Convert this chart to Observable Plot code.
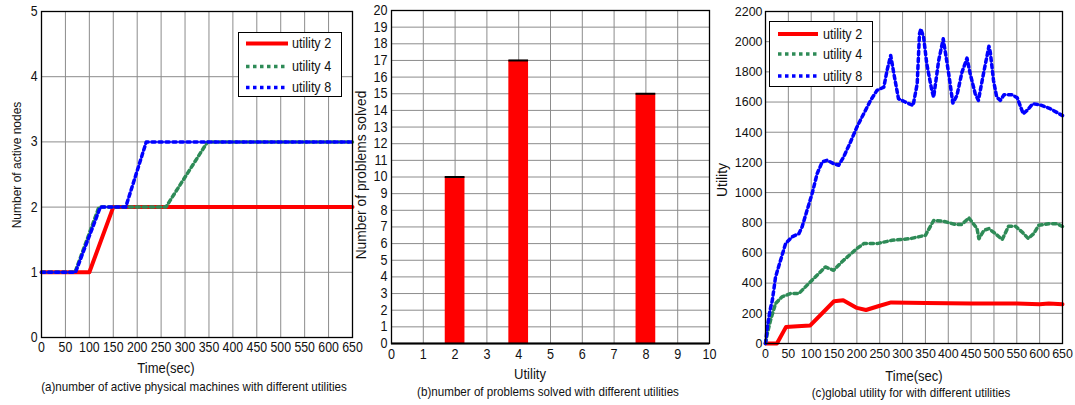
<!DOCTYPE html>
<html><head><meta charset="utf-8">
<script src="https://cdn.jsdelivr.net/npm/d3@7"></script>
<script src="https://cdn.jsdelivr.net/npm/@observablehq/plot@0.6"></script>
<style>
body{margin:0;background:#fff;width:1075px;height:405px;position:relative;overflow:hidden;font-family:"Liberation Sans",Arial,sans-serif;color:#111;}
.panel{position:absolute;top:0;}
.panel svg{overflow:visible;}
.t{position:absolute;white-space:nowrap;transform:translate(-50%,-50%) scaleX(0.93);font-size:14px;}
.cap{position:absolute;white-space:nowrap;transform:translate(-50%,-50%) scaleX(0.86);font-size:13.5px;}
.yl{position:absolute;white-space:nowrap;transform:translate(-50%,-50%) rotate(-90deg);font-size:12px;}
.legend{position:absolute;border:1.5px solid #000;background:#fff;box-sizing:border-box;}
.legend svg{position:absolute;left:0;top:0;overflow:visible;}
</style>
</head><body>
<div id="pa" class="panel" style="left:0px"></div>
<div id="pb" class="panel" style="left:360px"></div>
<div id="pc" class="panel" style="left:715px"></div>

<div class="yl" style="left:17px;top:165px">Number of active nodes</div>
<div class="t" style="left:166px;top:368px">Time(sec)</div>
<div class="cap" style="left:194px;top:386px">(a)number of active physical machines with different utilities</div>

<div class="yl" style="left:361px;top:175px;font-size:13.8px">Number of problems solved</div>
<div class="t" style="left:530px;top:374px">Utility</div>
<div class="cap" style="left:548px;top:391px">(b)number of problems solved with different utilities</div>

<div class="yl" style="left:722px;top:180px;font-size:14px">Utility</div>
<div class="t" style="left:914px;top:376px">Time(sec)</div>
<div class="cap" style="left:911px;top:392px">(c)global utility for with different utilities</div>

<div id="lega" class="legend" style="left:238px;top:32px;width:104px;height:65px"></div>
<div id="legc" class="legend" style="left:769px;top:21px;width:104px;height:66px"></div>

<script>
// ---------- data: panel (a) number of active nodes ----------
const seriesNames = ["utility 2", "utility 4", "utility 8"];
const seriesColors = ["#ff0000", "#2e8b57", "#0000ff"];

const timeA_u2 = [0, 100, 150, 650];
const nodesA_u2 = [1, 1, 2, 2];
const timeA_u4 = [0, 70, 120, 260, 347, 650];
const nodesA_u4 = [1, 1, 2, 2, 3, 3];
const timeA_u8 = [0, 71, 123, 176, 219, 650];
const nodesA_u8 = [1, 1, 2, 2, 3, 3];
const ticksA_x = [0,50,100,150,200,250,300,350,400,450,500,550,600,650];
const ticksA_y = [0,1,2,3,4,5];

// ---------- data: panel (b) problems solved ----------
const utilitiesB = [2, 4, 8];
const solvedB = [10, 17, 15];
const ticksB_x = [0,1,2,3,4,5,6,7,8,9,10];
const ticksB_y = [0,1,2,3,4,5,6,7,8,9,10,11,12,13,14,15,16,17,18,19,20];

// ---------- data: panel (c) global utility ----------
const timeC_u2 = [0,25,45,70,98,150,170,200,220,250,275,350,450,550,600,620,650];
const utilC_u2 = [0,0,110,115,120,280,287,236,222,250,272,268,265,265,260,265,260];
const timeC_u4 = [0,4,11,22,36,55,73,98,120,131,149,171,200,215,244,277,317,350,368,389,415,430,445,463,467,478,489,503,518,532,547,561,575,587,598,620,638,650];
const utilC_u4 = [0,66,154,265,309,331,331,408,474,507,485,552,629,662,662,684,695,717,815,811,789,789,833,761,694,750,761,728,689,777,777,740,696,728,783,794,794,775];
const timeC_u8 = [0,4,10,15,22,33,44,58,73,80,91,102,113,124,135,149,160,171,186,200,215,230,244,259,266,274,281,291,306,323,332,337,340,346,353,364,368,379,389,393,401,410,419,430,441,448,459,466,477,489,492,499,506,514,522,540,551,564,574,585,600,623,643,650];
const utilC_u8 = [0,110,221,287,441,552,662,706,728,772,883,993,1125,1203,1214,1192,1181,1236,1335,1434,1523,1611,1677,1699,1809,1909,1787,1622,1600,1577,1721,2052,2085,2030,1853,1677,1632,1875,2019,1942,1787,1593,1644,1798,1891,1787,1655,1611,1787,1970,1931,1743,1633,1611,1648,1648,1628,1522,1549,1589,1582,1556,1522,1510];
const ticksC_x = ticksA_x;
const ticksC_y = [0,200,400,600,800,1000,1200,1400,1600,1800,2000,2200];

// ---------- helpers ----------
const rows = (xs, ys) => xs.map((x, i) => ({x, y: ys[i]}));
const lineStyles = [
  {stroke: seriesColors[0], strokeWidth: 4},
  {stroke: seriesColors[1], strokeWidth: 3.5, strokeDasharray: "3.5,3.5"},
  {stroke: seriesColors[2], strokeWidth: 3.5, strokeDasharray: "3.5,3.5"}
];
const styleFor = (fs) => ({background: "transparent", fontFamily: "'Liberation Sans',Arial,sans-serif", fontSize: fs + "px", color: "#111", overflow: "visible"});
const gridStyle = {stroke: "#8c8c8c", strokeOpacity: 1, strokeWidth: 1};
const fmt = (d) => String(d);

function squeeze(svg, s) {
  svg.querySelectorAll('g[aria-label$="tick label"] text').forEach((t) => {
    const x = +(t.getAttribute("x") || 0);
    const tr = t.getAttribute("transform") || "";
    t.setAttribute("transform", `${tr} translate(${x},0) scale(${s},1) translate(${-x},0)`);
  });
  return svg;
}

// ---------- panel (a) ----------
const dataA = [rows(timeA_u2, nodesA_u2), rows(timeA_u4, nodesA_u4), rows(timeA_u8, nodesA_u8)];
document.getElementById("pa").append(squeeze(Plot.plot({
  width: 360, height: 405, marginLeft: 41, marginRight: 8, marginTop: 11, marginBottom: 68,
  style: styleFor(14),
  x: {domain: [0, 650], ticks: ticksA_x, tickFormat: fmt, label: null, tickSize: 0, tickPadding: 5},
  y: {domain: [0, 5], ticks: ticksA_y, tickFormat: fmt, label: null, tickSize: 0, tickPadding: 4},
  marks: [
    Plot.gridX(ticksA_x, gridStyle),
    Plot.gridY(ticksA_y, gridStyle),
    ...dataA.map((d, i) => Plot.line(d, {x: "x", y: "y", ...lineStyles[i]})),
    Plot.frame({stroke: "#000", strokeWidth: 1.3})
  ]
}), 0.88));

// ---------- panel (b) ----------
const dataB = utilitiesB.map((u, i) => ({u, n: solvedB[i]}));
const halfW = 0.31;
document.getElementById("pb").append(squeeze(Plot.plot({
  width: 355, height: 405, marginLeft: 31, marginRight: 6, marginTop: 10, marginBottom: 62,
  style: styleFor(14),
  x: {domain: [0, 10], ticks: ticksB_x, tickFormat: fmt, label: null, tickSize: 0, tickPadding: 6},
  y: {domain: [0, 20], ticks: ticksB_y, tickFormat: fmt, label: null, tickSize: 0, tickPadding: 4},
  marks: [
    Plot.gridX(ticksB_x, gridStyle),
    Plot.gridY(ticksB_y, gridStyle),
    Plot.rectY(dataB, {x1: d => d.u - halfW, x2: d => d.u + halfW, y: "n", fill: "#ff0000"}),
    Plot.ruleY(dataB, {x1: d => d.u - halfW, x2: d => d.u + halfW, y: "n", stroke: "#000", strokeWidth: 2}),
    Plot.ruleY([0], {stroke: "#000", strokeWidth: 2}),
    Plot.frame({stroke: "#000", strokeWidth: 1.3})
  ]
}), 0.9));

// ---------- panel (c) ----------
const dataC = [rows(timeC_u2, utilC_u2), rows(timeC_u4, utilC_u4), rows(timeC_u8, utilC_u8)];
document.getElementById("pc").append(squeeze(Plot.plot({
  width: 360, height: 405, marginLeft: 50, marginRight: 13, marginTop: 11, marginBottom: 62,
  style: styleFor(13.5),
  x: {domain: [0, 650], ticks: ticksC_x, tickFormat: fmt, label: null, tickSize: 0, tickPadding: 5},
  y: {domain: [0, 2200], ticks: ticksC_y, tickFormat: fmt, label: null, tickSize: 0, tickPadding: 3},
  marks: [
    Plot.gridX(ticksC_x, gridStyle),
    Plot.gridY(ticksC_y, gridStyle),
    ...dataC.map((d, i) => Plot.line(d, {x: "x", y: "y", ...lineStyles[i]})),
    Plot.frame({stroke: "#000", strokeWidth: 1.3})
  ]
}), 0.92));

// ---------- legends ----------
function legend(id, rowYs, x1, x2, tx) {
  const ns = "http://www.w3.org/2000/svg";
  const el = document.getElementById(id);
  const svg = document.createElementNS(ns, "svg");
  svg.setAttribute("width", el.clientWidth);
  svg.setAttribute("height", el.clientHeight);
  seriesNames.forEach((name, i) => {
    const l = document.createElementNS(ns, "line");
    l.setAttribute("x1", x1); l.setAttribute("x2", x2);
    l.setAttribute("y1", rowYs[i]); l.setAttribute("y2", rowYs[i]);
    l.setAttribute("stroke", lineStyles[i].stroke);
    l.setAttribute("stroke-width", lineStyles[i].strokeWidth);
    if (lineStyles[i].strokeDasharray) l.setAttribute("stroke-dasharray", lineStyles[i].strokeDasharray);
    svg.append(l);
    const t = document.createElementNS(ns, "text");
    t.setAttribute("transform", `translate(${tx},${rowYs[i]}) scale(0.9,1)`);
    t.setAttribute("dy", "0.35em");
    t.setAttribute("font-size", "14px");
    t.setAttribute("font-family", "'Liberation Sans',Arial,sans-serif");
    t.setAttribute("fill", "#111");
    t.textContent = name;
    svg.append(t);
  });
  el.append(svg);
}
legend("lega", [10.5, 33.5, 54.5], 7, 49, 53);
legend("legc", [12, 32, 54], 8, 48, 53);
</script>
</body></html>
